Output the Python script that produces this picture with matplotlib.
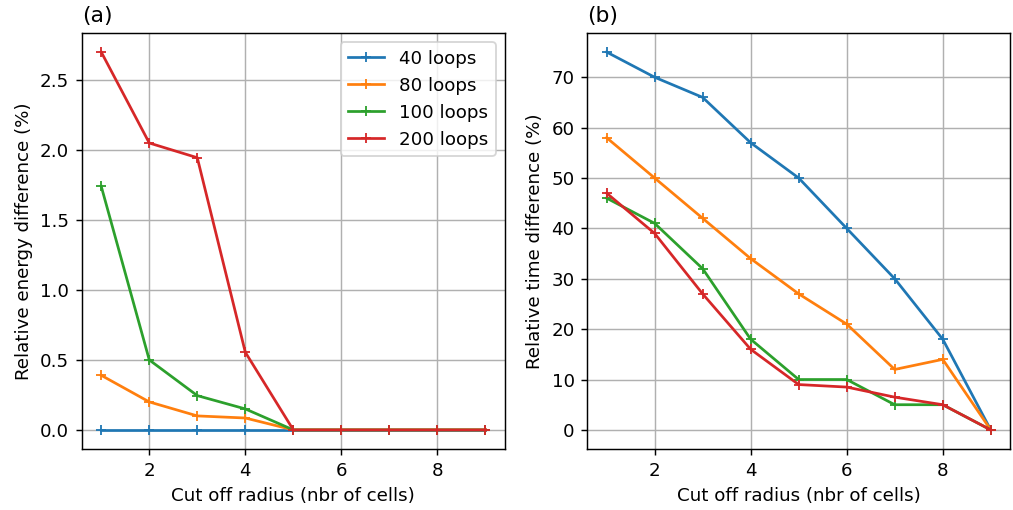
import matplotlib
matplotlib.use("Agg")
import matplotlib.pyplot as plt

radius = [1, 2, 3, 4, 5, 6, 7, 8, 9]
labels = ['40 loops', '80 loops', '100 loops', '200 loops']

# relative energy difference (%)
energy_40 = [0, 0, 0, 0, 0, 0, 0, 0, 0]
energy_80 = [0.39, 0.2, 0.1, 0.085, 0, 0, 0, 0, 0]
energy_100 = [1.74, 0.5, 0.245, 0.15, 0, 0, 0, 0, 0]
energy_200 = [2.7, 2.05, 1.945, 0.555, 0, 0, 0, 0, 0]

# relative time difference (%)
time_40 = [75, 70, 66, 57, 50, 40, 30, 18, 0]
time_80 = [58, 50, 42, 34, 27, 21, 12, 14, 0]
time_100 = [46, 41, 32, 18, 10, 10, 5, 5, 0]
time_200 = [47, 39, 27, 16, 9, 8.5, 6.5, 5, 0]

dpi = 131
fig, (ax1, ax2) = plt.subplots(1, 2, figsize=(1013 / dpi, 510 / dpi), dpi=dpi)

for y, lab in zip([energy_40, energy_80, energy_100, energy_200], labels):
    ax1.plot(radius, y, marker='+', label=lab)
ax1.set_title('(a)', loc='left')
ax1.set_xlabel('Cut off radius (nbr of cells)')
ax1.set_ylabel('Relative energy difference (%)')
ax1.grid(True)
ax1.legend(loc='upper right')

for y, lab in zip([time_40, time_80, time_100, time_200], labels):
    ax2.plot(radius, y, marker='+', label=lab)
ax2.set_title('(b)', loc='left')
ax2.set_xlabel('Cut off radius (nbr of cells)')
ax2.set_ylabel('Relative time difference (%)')
ax2.grid(True)

plt.subplots_adjust(left=0.081, right=0.997, bottom=0.12, top=0.935, wspace=0.196)
plt.savefig('out.png', dpi=dpi)
plt.close()
